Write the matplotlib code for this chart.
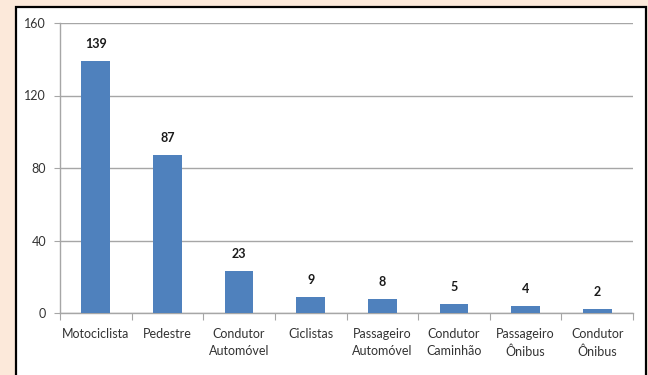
import matplotlib
matplotlib.use("Agg")
import matplotlib.pyplot as plt
from matplotlib.patches import Rectangle

categories = ["Motociclista", "Pedestre", "Condutor\nAutomóvel", "Ciclistas",
              "Passageiro\nAutomóvel", "Condutor\nCaminhão", "Passageiro\nÔnibus",
              "Condutor\nÔnibus"]
values = [139, 87, 23, 9, 8, 5, 4, 2]
yticks = [0, 40, 80, 120, 160]

plt.rcParams['font.family'] = ['Lato', 'DejaVu Sans']

fig = plt.figure(figsize=(6.48, 3.75), dpi=100)
fig.patch.set_facecolor("#FCE9DA")

# white chart frame with a black border
frame = Rectangle((16 / 648, -0.05), (646 - 16) / 648, (375 - 7) / 375 + 0.05,
                  transform=fig.transFigure, facecolor="white", edgecolor="black",
                  linewidth=1.6, zorder=-1)
fig.patches.append(frame)

ax = fig.add_axes([60 / 648, 62 / 375, 573 / 648, 290 / 375])
ax.set_zorder(2)
ax.set_facecolor("none")
x = range(len(categories))
ax.bar(x, values, width=0.4, color="#4F81BD", zorder=3)
for xi, v in zip(x, values):
    ax.text(xi, v + 6, str(v), ha="center", va="bottom", fontsize=9,
            fontweight="bold", color="#1a1a1a")

ax.set_xlim(-0.5, len(categories) - 0.5)
ax.set_ylim(0, 160)
ax.set_yticks(yticks)
ax.set_yticklabels([str(t) for t in yticks], fontsize=9, color="#333333")
ax.yaxis.grid(True, color="#A6A6A6", linewidth=1.0, zorder=0)
ax.set_axisbelow(True)

ax.set_xticks([i + 0.5 for i in range(-1, len(categories))], minor=False)
ax.set_xticklabels([])
ax.set_xticks(list(x), minor=True)
ax.set_xticklabels(categories, minor=True, fontsize=9, color="#333333",
                   linespacing=1.45)
ax.tick_params(axis="x", which="minor", length=0, pad=11)
ax.tick_params(axis="x", which="major", length=5, color="#A6A6A6", direction="out")
ax.tick_params(axis="y", length=4, color="#A6A6A6", direction="out", pad=6)

for side in ["top", "right"]:
    ax.spines[side].set_visible(False)
for side in ["left", "bottom"]:
    ax.spines[side].set_color("#A6A6A6")
    ax.spines[side].set_linewidth(1.0)

fig.savefig("out.png", dpi=100, facecolor=fig.get_facecolor())
